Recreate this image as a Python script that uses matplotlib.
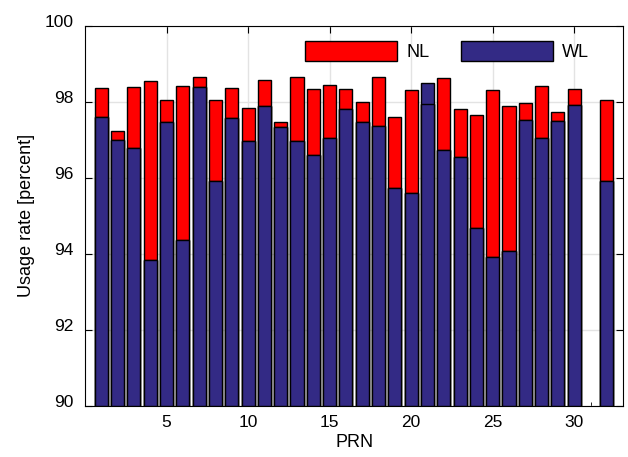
import matplotlib
matplotlib.use("Agg")
import matplotlib.pyplot as plt
from matplotlib.ticker import MultipleLocator
from matplotlib.transforms import ScaledTranslation

prn = [1, 2, 3, 4, 5, 6, 7, 8, 9, 10, 11, 12, 13, 14, 15, 16, 17, 18, 19, 20,
       21, 22, 23, 24, 25, 26, 27, 28, 29, 30, 32]
nl = [98.37, 97.22, 98.39, 98.55, 98.04, 98.41, 98.65, 98.05, 98.35, 97.84,
      98.58, 97.47, 98.66, 98.33, 98.45, 98.33, 97.99, 98.65, 97.61, 98.31,
      97.93, 98.63, 97.82, 97.65, 98.31, 97.90, 97.97, 98.41, 97.73, 98.33,
      98.04]
wl = [97.61, 96.99, 96.79, 93.85, 97.46, 94.37, 98.40, 95.93, 97.57, 96.98,
      97.89, 97.34, 96.97, 96.61, 97.05, 97.82, 97.48, 97.36, 95.74, 95.60,
      98.49, 96.74, 96.54, 94.69, 93.92, 94.07, 97.52, 97.04, 97.49, 97.91,
      95.92]

RED, BLUE = "#ff0000", "#332a85"
plt.rcParams.update({"font.family": "Liberation Sans", "font.size": 13})

fig = plt.figure(figsize=(6.28, 4.57), dpi=100)
ax = fig.add_axes([0.1353, 0.111, 0.857, 0.833])

base = 90
ax.bar(prn, [v - base for v in nl], bottom=base, width=0.8, color=RED,
       edgecolor="black", lw=1.0, label="NL", zorder=2)
ax.bar(prn, [v - base for v in wl], bottom=base, width=0.8, color=BLUE,
       edgecolor="black", lw=1.0, label="WL", zorder=3)
# where WL is above NL the NL top still shows as an edge line
lo = [min(a, b) for a, b in zip(nl, wl)]
ax.bar(prn, [v - base for v in lo], bottom=base, width=0.8, color=BLUE,
       edgecolor="black", lw=1.0, zorder=4)

ax.set_xlim(0, 33)
ax.set_ylim(90, 100)
ax.xaxis.set_minor_locator(MultipleLocator(1))
ax.set_xticks([5, 10, 15, 20, 25, 30])
ax.set_yticks([90, 92, 94, 96, 98, 100])
ax.tick_params(which="both", direction="in", top=True, right=True)
ax.tick_params(which="major", length=5)
ax.tick_params(axis="y", pad=8, labelsize=12.5)
ax.tick_params(axis="x", pad=6, labelsize=12.5)
ax.tick_params(which="minor", length=3, top=False)
ax.grid(True, color="#e3e3e3", lw=1.0, zorder=0)
ax.set_axisbelow(True)
ax.set_xlabel("PRN", labelpad=3)
ax.set_ylabel("Usage rate [percent]", labelpad=7)

# y tick labels sit a little above their ticks in the original
up = ScaledTranslation(0, 5 / 100, fig.dpi_scale_trans)
for lab in ax.get_yticklabels():
    lab.set_transform(lab.get_transform() + up)

ax.legend(ncol=2, frameon=False, loc="upper left",
          bbox_to_anchor=(305 / 628, 1 - 41 / 457),
          bbox_transform=fig.transFigure, borderpad=0, borderaxespad=0,
          handlelength=5.1, handleheight=1.3,
          columnspacing=1.75, handletextpad=0.5)

fig.savefig("out.png")
